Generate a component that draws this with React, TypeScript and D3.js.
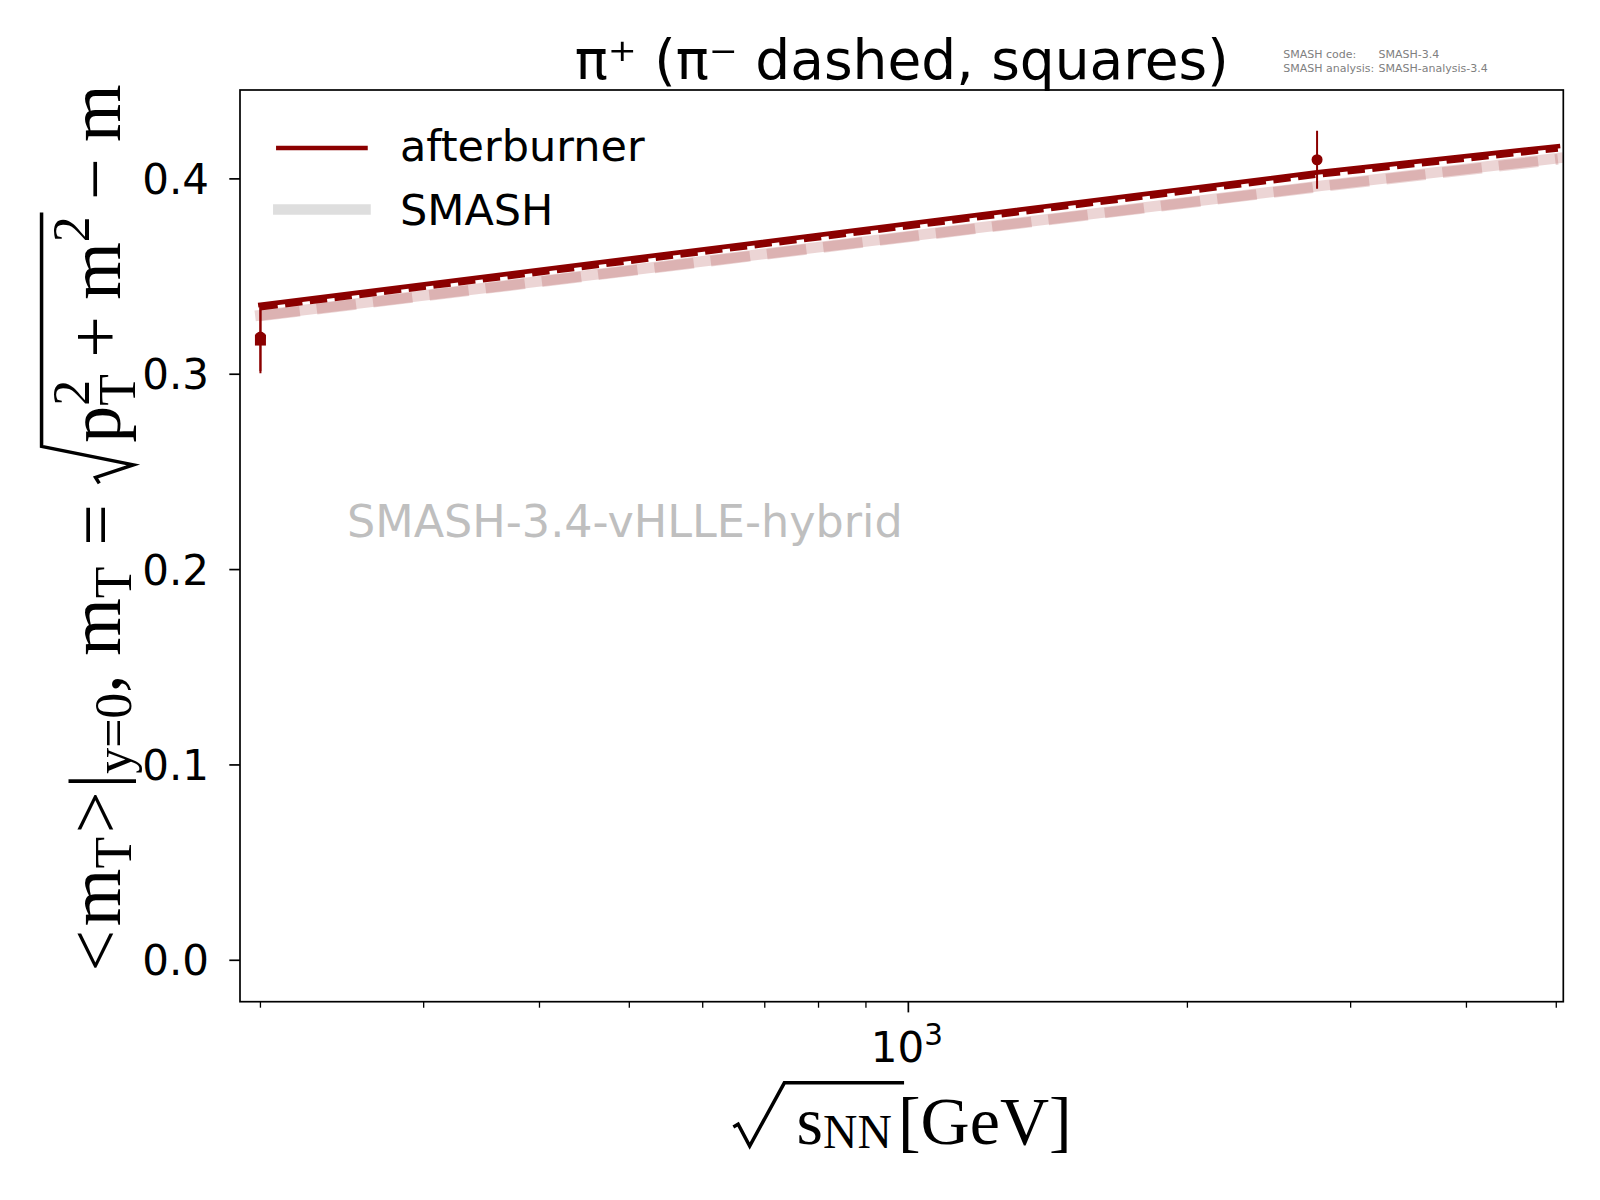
import { useEffect, useRef } from 'react';
import * as d3 from 'd3';

// collision energies of the model runs (GeV)
const energies = [200, 2760, 5020];
const afterburnerPiPlus = [0.3355, 0.4033, 0.4167];
const afterburnerPiMinus = [0.3338, 0.4017, 0.4151];
const smashPiPlus = [0.3302, 0.3962, 0.4106];
const smashPiMinus = [0.3298, 0.3958, 0.41];

// measured points
const dataPiPlusE = [200, 2760];
const dataPiPlus = [0.319, 0.4098];
const dataPiPlusErr = [0.0174, 0.0149];
const dataPiMinusE = [200];
const dataPiMinus = [0.3175];
const dataPiMinusErr = [0.017];

const yTicks = [0, 0.1, 0.2, 0.3, 0.4];
const xMajorTicks = [1000];
const xMinorTicks = [200, 300, 400, 500, 600, 700, 800, 900, 2000, 3000, 4000, 5000];

const title = 'π⁺ (π⁻ dashed, squares)';
const watermark = 'SMASH-3.4-vHLLE-hybrid';
const versionKeys = ['SMASH code:', 'SMASH analysis:'];
const versionVals = ['SMASH-3.4', 'SMASH-analysis-3.4'];
const legendLabels = ['afterburner', 'SMASH'];

export default function App() {
  const svgRef = useRef<SVGSVGElement>(null);
  const W = 1600;
  const H = 1200;

  useEffect(() => {
    if (!svgRef.current) return;
    const svg = d3.select(svgRef.current);
    svg.selectAll('*').remove();

    const L = 240, R = 1563.3, T = 90, B = 1001.7;
    const x = d3.scaleLog().domain([190.1, 5088]).range([L, R]);
    const y = d3.scaleLinear().domain([-0.0212, 0.4455]).range([B, T]);
    const red = '#8b0000';
    const sans = 'DejaVu Sans';
    const serif = 'Liberation Serif';

    svg.append('rect').attr('width', W).attr('height', H).attr('fill', 'white');

    svg.append('defs').append('clipPath').attr('id', 'plot-clip')
      .append('rect').attr('x', L).attr('y', T).attr('width', R - L).attr('height', B - T);
    const plot = svg.append('g').attr('clip-path', 'url(#plot-clip)');

    const line = d3.line<[number, number]>().x(d => x(d[0])).y(d => y(d[1]));
    const series = (vals: number[]) => energies.map((e, i) => [e, vals[i]] as [number, number]);

    // SMASH (pale)
    plot.append('path').datum(series(smashPiPlus)).attr('d', line)
      .attr('fill', 'none').attr('stroke', red).attr('stroke-opacity', 0.165)
      .attr('stroke-width', 10.7).attr('stroke-linecap', 'square');
    plot.append('path').datum(series(smashPiMinus)).attr('d', line)
      .attr('fill', 'none').attr('stroke', red).attr('stroke-opacity', 0.165)
      .attr('stroke-width', 10.7).attr('stroke-dasharray', '39.6,17.1');

    // afterburner
    plot.append('path').datum(series(afterburnerPiMinus)).attr('d', line)
      .attr('fill', 'none').attr('stroke', red).attr('stroke-width', 4.7)
      .attr('stroke-dasharray', '17.4,7.5');
    plot.append('path').datum(series(afterburnerPiPlus)).attr('d', line)
      .attr('fill', 'none').attr('stroke', red).attr('stroke-width', 4.7)
      .attr('stroke-linecap', 'square');

    // data with error bars
    dataPiMinusE.forEach((e, i) => {
      plot.append('line').attr('x1', x(e)).attr('x2', x(e))
        .attr('y1', y(dataPiMinus[i] - dataPiMinusErr[i])).attr('y2', y(dataPiMinus[i] + dataPiMinusErr[i]))
        .attr('stroke', red).attr('stroke-width', 2);
      plot.append('rect').attr('x', x(e) - 5.5).attr('y', y(dataPiMinus[i]) - 5.5)
        .attr('width', 11).attr('height', 11).attr('fill', red);
    });
    dataPiPlusE.forEach((e, i) => {
      plot.append('line').attr('x1', x(e)).attr('x2', x(e))
        .attr('y1', y(dataPiPlus[i] - dataPiPlusErr[i])).attr('y2', y(dataPiPlus[i] + dataPiPlusErr[i]))
        .attr('stroke', red).attr('stroke-width', 2);
      plot.append('circle').attr('cx', x(e)).attr('cy', y(dataPiPlus[i])).attr('r', 5.5).attr('fill', red);
    });

    // frame
    svg.append('rect').attr('x', L).attr('y', T).attr('width', R - L).attr('height', B - T)
      .attr('fill', 'none').attr('stroke', 'black').attr('stroke-width', 1.7);

    // y ticks
    yTicks.forEach(v => {
      svg.append('line').attr('x1', L - 10.7).attr('x2', L).attr('y1', y(v)).attr('y2', y(v))
        .attr('stroke', 'black').attr('stroke-width', 1.7);
      svg.append('text').attr('x', 209).attr('y', y(v)).attr('dy', '0.36em')
        .attr('text-anchor', 'end').attr('font-family', sans).attr('font-size', 42)
        .text(d3.format('.1f')(v));
    });

    // x ticks
    xMinorTicks.forEach(v => {
      svg.append('line').attr('x1', x(v)).attr('x2', x(v)).attr('y1', B).attr('y2', B + 6)
        .attr('stroke', 'black').attr('stroke-width', 1.3);
    });
    xMajorTicks.forEach(v => {
      svg.append('line').attr('x1', x(v)).attr('x2', x(v)).attr('y1', B).attr('y2', B + 10.7)
        .attr('stroke', 'black').attr('stroke-width', 1.7);
      const t = svg.append('text').attr('x', x(v) - 1.5).attr('y', 1061.5)
        .attr('text-anchor', 'middle').attr('font-family', sans).attr('font-size', 42);
      t.append('tspan').text('10');
      t.append('tspan').attr('dy', -17).attr('font-size', 29.4).text(String(Math.round(Math.log10(v))));
    });

    // title
    svg.append('text').attr('x', (L + R) / 2).attr('y', 78.5).attr('text-anchor', 'middle')
      .attr('font-family', sans).attr('font-size', 55).text(title);

    // version info
    versionKeys.forEach((k, i) => {
      svg.append('text').attr('x', 1283.3).attr('y', 58.3 + i * 13.4).attr('font-family', sans)
        .attr('font-size', 11).attr('fill', '#808080').text(k);
      svg.append('text').attr('x', 1378.5).attr('y', 58.3 + i * 13.4).attr('font-family', sans)
        .attr('font-size', 11).attr('fill', '#808080').text(versionVals[i]);
    });

    // watermark
    svg.append('text').attr('x', 347).attr('y', 537).attr('font-family', sans)
      .attr('font-size', 44.5).attr('fill', '#bfbfbf').text(watermark);

    // legend
    svg.append('line').attr('x1', 278.4).attr('x2', 365.4).attr('y1', 148).attr('y2', 148)
      .attr('stroke', red).attr('stroke-width', 4.7).attr('stroke-linecap', 'square');
    svg.append('line').attr('x1', 278.4).attr('x2', 365.4).attr('y1', 209.5).attr('y2', 209.5)
      .attr('stroke', '#dedede').attr('stroke-width', 10.7).attr('stroke-linecap', 'square');
    legendLabels.forEach((lab, i) => {
      svg.append('text').attr('x', 400).attr('y', 161 + i * 64).attr('font-family', sans)
        .attr('font-size', 43).text(lab);
    });

    // math labels, laid out piece by piece
    const makeWriter = (g: d3.Selection<SVGGElement, unknown, null, undefined>) => {
      let cx = 0;
      const put = (s: string, size: number, off: number, advance = true) => {
        const t = g.append('text').attr('x', cx).attr('y', off).attr('font-family', serif)
          .attr('font-size', size).text(s);
        const w = (t.node() as SVGTextElement).getComputedTextLength();
        if (advance) cx += w;
        return w;
      };
      return {
        put,
        gap: (d: number) => { cx += d; },
        pos: () => cx,
      };
    };

    // y label
    const F = 74, S = 0.7 * F;
    const yl = svg.append('g');
    const wy = makeWriter(yl);
    wy.put('<', F, 0); wy.gap(0.05 * F);
    wy.put('m', F, 0); wy.put('T', S, 0.15 * F);
    wy.gap(0.05 * F); wy.put('>', F, 0); wy.gap(0.04 * F);
    wy.put('|', F, 0);
    wy.put('y=0', S, 0.15 * F);
    wy.put(',', F, 0); wy.gap(0.25 * F);
    wy.put('m', F, 0); wy.put('T', S, 0.15 * F);
    wy.gap(0.28 * F); wy.put('=', F, 0); wy.gap(0.28 * F);
    const r0 = wy.pos();
    wy.gap(0.55 * F);
    wy.put('p', F, 0);
    const wSub = wy.put('T', S, 0.2 * F, false);
    const wSup = wy.put('2', S, -0.42 * F, false);
    wy.gap(Math.max(wSub, wSup));
    wy.gap(0.22 * F); wy.put('+', F, 0); wy.gap(0.22 * F);
    wy.put('m', F, 0); wy.put('2', S, -0.42 * F);
    const r1 = wy.pos() + 0.05 * F;
    wy.gap(0.22 * F); wy.put('−', F, 0); wy.gap(0.22 * F);
    wy.put('m', F, 0);
    yl.append('path')
      .attr('d', `M${r0},${-0.28 * F} L${r0 + 0.08 * F},${-0.33 * F} L${r0 + 0.25 * F},${0.18 * F} L${r0 + 0.5 * F},${-1.06 * F} L${r1},${-1.06 * F}`)
      .attr('fill', 'none').attr('stroke', 'black').attr('stroke-width', 3.5).attr('stroke-linejoin', 'miter');
    const ylen = wy.pos();
    yl.attr('transform', `translate(120,${528 + ylen / 2}) rotate(-90)`);

    // x label
    const F2 = 68, S2 = 0.7 * F2;
    const xl = svg.append('g');
    const wx = makeWriter(xl);
    wx.gap(0.93 * F2);
    wx.put('s', F2, 0);
    wx.put('NN', S2, 0.06 * F2);
    const xr1 = wx.pos() + 0.18 * F2;
    wx.gap(0.09 * F2);
    wx.put('[GeV]', F2, 0);
    xl.append('path')
      .attr('d', `M0,${-0.25 * F2} L${0.07 * F2},${-0.29 * F2} L${0.24 * F2},${0.03 * F2} L${0.75 * F2},${-0.9 * F2} L${xr1},${-0.9 * F2}`)
      .attr('fill', 'none').attr('stroke', 'black').attr('stroke-width', 3.5);
    const xlen = wx.pos();
    xl.attr('transform', `translate(${902.5 - xlen / 2},1144)`);
  }, []);

  return (
    <svg ref={svgRef} width={W} height={H}
      style={{ position: 'absolute', left: 0, top: 0, background: 'white' }} />
  );
}
